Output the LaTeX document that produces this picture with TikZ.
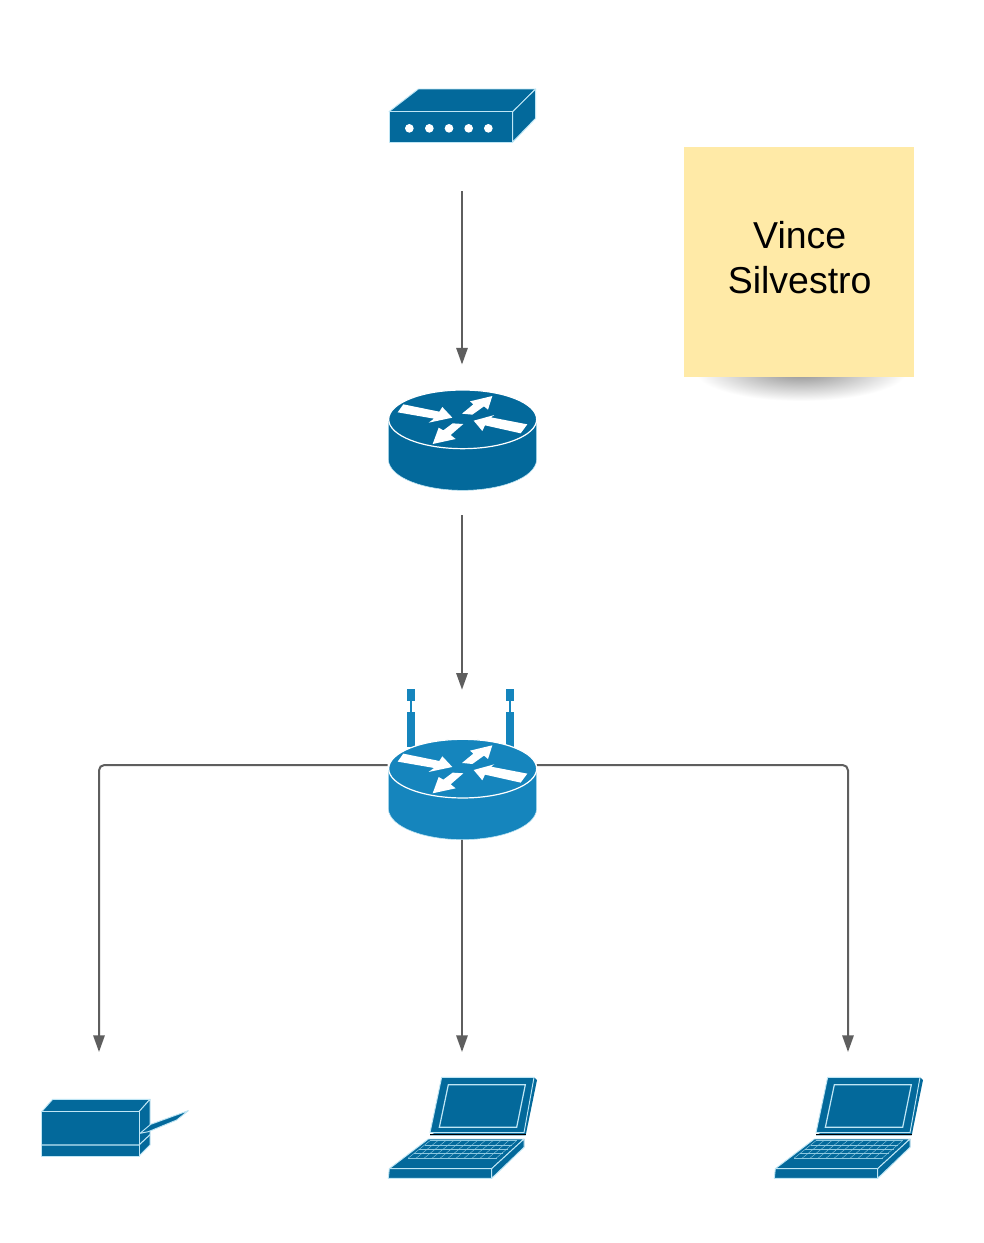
\documentclass[tikz,border=0pt]{standalone}
\usepackage{fontspec}
\setmainfont{Liberation Sans}
\usetikzlibrary{arrows.meta}
\definecolor{cdark}{HTML}{03699B}
\definecolor{clight}{HTML}{1585BD}
\definecolor{cedge}{HTML}{BFE6F5}
\definecolor{cgrid}{HTML}{8CC8E0}
\definecolor{cline}{HTML}{5E5E5E}
\definecolor{cnote}{HTML}{FFEAA7}
\tikzset{
  iconbox/.style={inner sep=0pt,outer sep=0pt,minimum width=#1*0.75pt},
  face/.style={fill=cdark,draw=cedge,line width=.7pt,line join=round},
  link/.style={draw=cline,line width=1.5pt,rounded corners=4pt,-{Triangle[length=12.5pt,width=8.5pt]}},
  zoomed/.style={x=.25pt,y=-.25pt},
}
% router drawn in 3x coordinates
\newcommand{\routericon}[3]{%
  \begin{scope}[shift={(#1,#2)},zoomed]
    \path[fill=#3,draw=cedge,line width=.4pt] (55,130) -- (55,255)
       .. controls (60,310) and (165,346) .. (278,346)
       .. controls (390,346) and (495,310) .. (500,255) -- (500,130) -- cycle;
    \path[fill=#3,draw=white,line width=.9pt] (278,133) ellipse [x radius=222,y radius=88];
    \fill[white] (83,112) -- (100,88) -- (208,110) -- (217,96) -- (247,128) -- (176,143) -- (192,131) -- cycle;
    \fill[white] (276,116) -- (310,88) -- (300,79) -- (367,63) -- (354,104) -- (342,94) -- (307,119) -- cycle;
    \fill[white] (472,148) -- (363,127) -- (373,120) -- (311,137) -- (337,168) -- (345,151) -- (452,175) -- cycle;
    \fill[white] (248,145) -- (220,166) -- (206,158) -- (188,207) -- (257,192) -- (242,180) -- (280,147) -- cycle;
  \end{scope}}
\newcommand{\laptopicon}[2]{%
  \begin{scope}[shift={(#1,#2)},zoomed]
    \fill[cdark] (462,22) -- (471,30) -- (437,196) -- (150,196) -- cycle;
    \draw[black,line width=.9pt] (150,193) -- (437,193);
    \path[face] (150,188) -- (185,22) -- (462,22) -- (432,188) -- cycle;
    \draw[cedge,line width=.9pt] (178,172) -- (205,44) -- (436,44) -- (410,172) -- cycle;
    \fill[cdark] (432,207) -- (432,232) -- (410,245) -- (400,245) -- cycle;
    \path[face] (28,296) -- (145,207) -- (432,207) -- (335,296) -- cycle;
    \path[face] (28,296) -- (335,296) -- (335,325) -- (25,325) -- cycle;
    \path[face] (335,296) -- (432,207) -- (432,232) -- (335,325) -- cycle;
    \foreach \ya/\xa/\xb in {212/150/410, 225/135/397, 238/118/383, 251/101/368, 264/85/350}
      \draw[cgrid,line width=.3pt] (\xa,\ya) -- (\xb,\ya);
    \foreach \i in {0,...,11}
      \draw[cgrid,line width=.3pt] ({150+\i*23.6},212) -- ({85+\i*24},264);
  \end{scope}}
\begin{document}
\begin{tikzpicture}[x=.75pt,y=-.75pt]
\useasboundingbox (0,0) rectangle (983,1243);
\fill[white] (0,0) rectangle (983,1243);

% named places of the icons
\node[iconbox=148,minimum height=54*0.75pt] (modem) at (462,115) {};
\node[iconbox=150,minimum height=100*0.75pt] (router) at (462,440.5) {};
\node[iconbox=149,minimum height=148*0.75pt] (wap) at (462,765) {};
\node[iconbox=116,minimum height=58*0.75pt] (printer) at (99,1128) {};
\node[iconbox=149,minimum height=102*0.75pt] (laptopa) at (462,1128) {};
\node[iconbox=149,minimum height=102*0.75pt] (laptopb) at (848,1128) {};

% note shadow
\begin{scope}
  \clip (684,377) rectangle (914,412);
  \shade[inner color=black!45,outer color=white] (801,371) ellipse [x radius=106,y radius=30];
\end{scope}
% note
\node[fill=cnote,inner sep=0pt,outer sep=0pt,minimum width=230*0.75pt,minimum height=230*0.75pt] (note) at (799,262) {};
\node[align=center,inner sep=0pt,font=\fontsize{28.1}{33.75}\selectfont] (notetext) at (799.7,258) {Vince\\Silvestro};

% connectors
\draw[link,shorten <=49*0.75pt,shorten >=26*0.75pt] (modem.south) -- (router.north);
\draw[link,shorten <=24.5*0.75pt,shorten >=1pt] (router.south) -- (wap.north);
\draw[link,shorten >=47*0.75pt] (wap.west) -| (printer.north);
\draw[link,shorten >=25*0.75pt] (wap.south) -- (laptopa.north);
\draw[link,shorten >=25*0.75pt] (wap.east) -| (laptopb.north);

% modem
\begin{scope}[shift={(370,70)},zoomed]
  \path[face] (57,125) -- (145,57) -- (497,57) -- (428,125) -- cycle;
  \path[face] (428,125) -- (497,57) -- (497,145) -- (428,216) -- cycle;
  \path[face] (57,125) rectangle (428,216);
  \foreach \x in {118,178,237,296,355}
    \fill[white] (\x,175) circle [radius=13];
\end{scope}

% routers
\routericon{370}{375}{cdark}
\begin{scope}[shift={(370,680)},zoomed]
  \foreach \d in {0,296}{
    \fill[clight] (111+\d,28) rectangle (135+\d,62);
    \fill[clight] (120+\d,62) rectangle (126+\d,97);
    \fill[clight] (111+\d,97) rectangle (135+\d,200);
  }
\end{scope}
\routericon{370}{724.3}{clight}

% printer
\begin{scope}[shift={(30,1090)},zoomed]
  \path[face] (35,65) -- (68,28) -- (360,28) -- (327,65) -- cycle;
  \path[face] (327,65) -- (360,28) -- (360,165) -- (327,198) -- cycle;
  \path[face] (35,65) rectangle (327,198);
  \draw[cedge,line width=.8pt] (35,165) -- (327,165) -- (360,134);
  \path[face] (330,130) -- (362,103) -- (475,62) -- (440,90) -- (355,125) -- cycle;
\end{scope}

% laptops
\laptopicon{380}{1070}
\laptopicon{766}{1070}
\end{tikzpicture}
\end{document}
